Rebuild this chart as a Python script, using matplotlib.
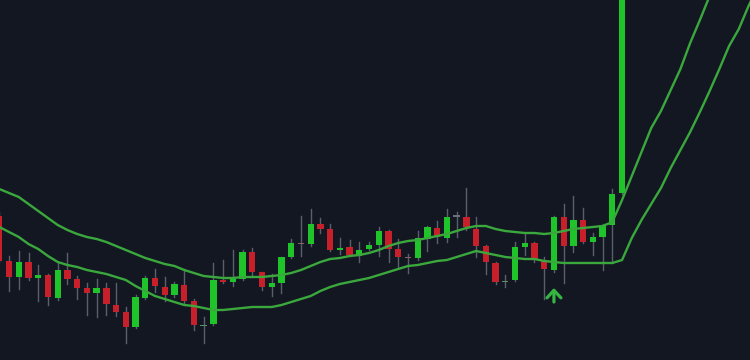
import matplotlib
matplotlib.use("Agg")
import matplotlib.pyplot as plt
from matplotlib.patches import Rectangle

# candle data (price units), index = bar number
opens = [18.4, 13.9, 12.3, 13.8, 12.2, 12.5, 10.2, 13.0, 12.1, 11.2,
         10.7, 11.2, 9.5, 8.8, 7.3, 10.2, 12.2, 11.3, 10.5, 11.5,
         9.9, 7.45, 7.6, 12.0, 11.8, 12.1, 14.8, 12.8, 11.3, 11.7,
         14.3, 15.7, 15.6, 17.6, 17.1, 15.0, 15.3, 14.4, 15.1, 15.5,
         16.9, 15.1, 14.3, 14.2, 16.1, 17.2, 16.2, 18.4, 18.3, 17.1,
         15.4, 13.7, 11.85, 12.0, 15.3, 15.7, 13.9, 13.0, 18.3, 15.4,
         18.0, 15.8, 16.3, 17.5, 20.7]
highs = [18.8, 14.4, 14.9, 14.7, 13.5, 12.6, 13.7, 14.7, 12.4, 11.7,
         12.1, 11.7, 11.7, 9.3, 10.5, 12.4, 13.1, 12.3, 11.8, 13.1,
         10.1, 8.3, 13.7, 14.0, 15.0, 15.0, 15.2, 12.85, 12.6, 14.3,
         16.1, 18.4, 19.1, 18.2, 17.6, 16.2, 16.0, 15.8, 15.8, 17.3,
         17.0, 16.1, 14.6, 16.9, 17.4, 17.9, 19.1, 18.8, 21.2, 18.3,
         15.5, 13.8, 12.5, 15.8, 16.7, 15.8, 14.3, 18.4, 19.6, 20.4,
         19.2, 16.7, 17.6, 21.1, 50.0]
lows = [13.8, 10.9, 11.1, 12.0, 9.9, 9.5, 10.0, 11.6, 10.1, 8.5,
        8.3, 8.5, 8.4, 5.7, 7.2, 10.1, 10.8, 9.9, 10.3, 9.7,
        7.0, 5.7, 7.5, 11.7, 11.4, 12.0, 12.3, 11.0, 10.4, 10.7,
        14.2, 14.4, 15.4, 16.7, 14.9, 14.6, 14.4, 13.8, 15.0, 14.4,
        13.8, 13.2, 12.7, 14.0, 14.9, 15.7, 15.8, 16.3, 17.0, 14.3,
        12.6, 11.6, 11.3, 11.9, 14.5, 13.8, 10.1, 12.8, 11.7, 14.8,
        15.7, 14.5, 13.0, 13.7, 20.6]
closes = [13.9, 12.3, 13.8, 12.2, 12.5, 10.3, 13.0, 12.1, 11.2, 10.7,
          11.2, 9.6, 8.8, 7.3, 10.3, 12.2, 11.4, 10.5, 11.6, 9.9,
          7.5, 7.55, 12.0, 11.8, 12.2, 14.8, 12.8, 11.3, 11.7, 14.3,
          15.7, 15.65, 17.6, 17.1, 15.0, 15.2, 14.5, 15.0, 15.5, 16.9,
          15.1, 14.3, 14.25, 16.2, 17.3, 16.3, 18.3, 18.4, 17.3, 15.4,
          13.8, 11.8, 11.95, 15.3, 15.7, 14.0, 13.1, 18.3, 15.4, 18.0,
          15.8, 16.3, 17.5, 20.6, 48.0]

# the two band lines (continue past the last visible candle)
upper_band = [21.1, 20.7, 20.3, 19.6, 18.9, 18.2, 17.5, 17.0, 16.6, 16.3,
              16.1, 15.8, 15.4, 15.0, 14.6, 14.2, 13.9, 13.6, 13.4, 13.0,
              12.7, 12.4, 12.3, 12.2, 12.2, 12.3, 12.3, 12.3, 12.4, 12.5,
              12.7, 13.0, 13.4, 13.8, 14.1, 14.2, 14.4, 14.5, 14.7, 15.0,
              15.4, 15.7, 15.9, 16.0, 16.2, 16.4, 16.6, 16.9, 17.2, 17.4,
              17.4, 17.1, 16.9, 16.8, 16.7, 16.7, 16.6, 16.7, 16.9, 17.1,
              17.2, 17.3, 17.4, 17.8, 20.0, 22.4, 24.8, 27.2, 28.9, 31.0,
              33.1, 35.7, 38.0, 40.4]
lower_band = [17.3, 16.8, 16.3, 15.6, 15.1, 14.4, 13.8, 13.5, 13.3, 13.0,
              12.8, 12.6, 12.3, 12.0, 11.4, 10.9, 10.4, 10.1, 9.8, 9.5,
              9.4, 9.2, 9.0, 9.0, 9.1, 9.2, 9.3, 9.3, 9.3, 9.5,
              9.8, 10.1, 10.4, 10.9, 11.3, 11.6, 11.8, 12.0, 12.2, 12.5,
              12.8, 13.1, 13.4, 13.5, 13.7, 13.9, 14.0, 14.3, 14.6, 14.9,
              14.7, 14.5, 14.3, 14.2, 14.1, 14.1, 13.9, 13.8, 13.7, 13.7,
              13.7, 13.7, 13.7, 13.7, 14.0, 16.2, 18.0, 19.6, 21.2, 23.2,
              25.0, 26.8, 28.8, 30.9, 33.1, 35.4, 37.1, 39.4, 41.4]

signal_bar = 57   # bar with the buy arrow
signal_top = 11.2
signal_bottom = 9.8

bg = "#131722"
up_col = "#1fc42b"
down_col = "#c8202b"
wick_col = "#5a5f6e"
line_col = "#3aa83d"

fig = plt.figure(figsize=(7.5, 3.6), dpi=100)
fig.patch.set_facecolor(bg)
ax = fig.add_axes([0, 0, 1, 1])
ax.set_facecolor(bg)

w = 0.65
for i in range(len(opens)):
    o, h, l, c = opens[i], highs[i], lows[i], closes[i]
    ax.plot([i, i], [l, h], color=wick_col, lw=1, zorder=1)
    if abs(c - o) < 0.15:
        # doji: thin muted body
        col = "#5f8f68" if c > o else ("#8a5f68" if c < o else "#6a7080")
        ax.add_patch(Rectangle((i - w / 2, min(o, c) - 0.08), w, 0.16,
                               facecolor=col, edgecolor="none", zorder=2))
    else:
        col = up_col if c > o else down_col
        ax.add_patch(Rectangle((i - w / 2, min(o, c)), w, abs(c - o),
                               facecolor=col, edgecolor="none", zorder=2))

ax.plot(range(len(upper_band)), upper_band, color=line_col, lw=1.7, zorder=3,
        solid_joinstyle="round")
ax.plot(range(len(lower_band)), lower_band, color=line_col, lw=1.7, zorder=3,
        solid_joinstyle="round")

ax.annotate("", xy=(signal_bar, signal_top), xytext=(signal_bar, signal_bottom),
            arrowprops=dict(arrowstyle="->,head_length=0.45,head_width=0.42",
                            color="#35b541", lw=2.3, mutation_scale=12,
                            shrinkA=0, shrinkB=0))

ax.set_xlim(0.07, 77.15)
ax.set_ylim(4, 40)
ax.axis("off")

fig.savefig("out.png", dpi=100, facecolor=bg)
